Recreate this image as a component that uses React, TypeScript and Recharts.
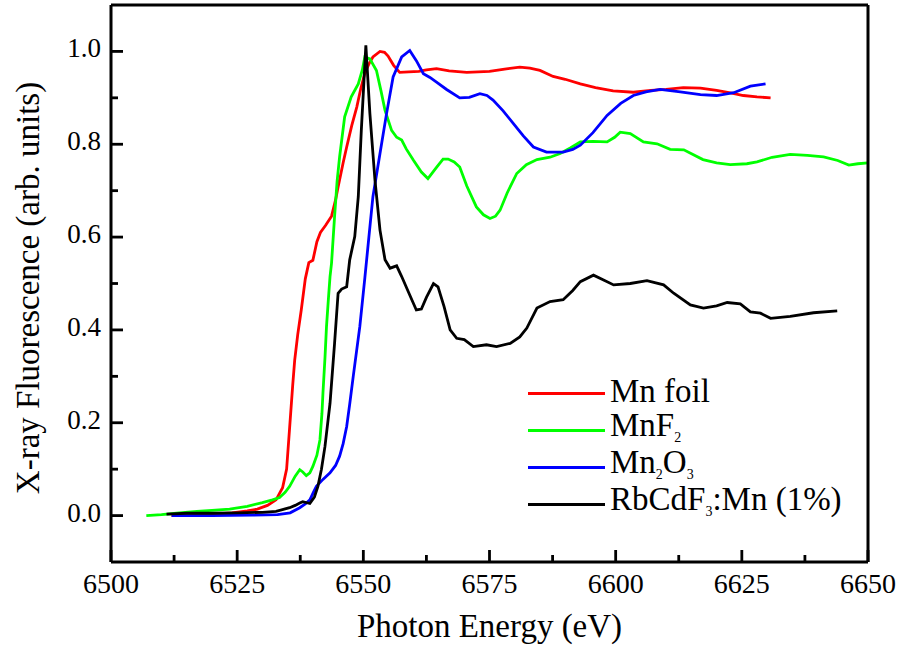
import React from 'react';
import { LineChart, Line, XAxis, YAxis, Legend } from 'recharts';

const FONT = "'Liberation Serif', 'Times New Roman', 'DejaVu Serif', 'Noto Serif', Tinos, serif";

// Photon energy (eV), normalized X-ray fluorescence
const mnFoil: [number, number][] = [
  [6512, 0.0], [6516, 0.0], [6520, 0.003], [6524, 0.006], [6527, 0.01], [6529, 0.014],
  [6531, 0.022], [6532.7, 0.034], [6534, 0.06], [6534.8, 0.1], [6535.4, 0.19], [6536, 0.28],
  [6536.4, 0.335], [6537, 0.39], [6537.7, 0.443], [6538.5, 0.51], [6539.2, 0.545], [6540, 0.55],
  [6540.8, 0.59], [6541.5, 0.61], [6542.5, 0.625], [6543.7, 0.645], [6544.5, 0.68], [6545, 0.708],
  [6546, 0.76], [6546.7, 0.794], [6547.7, 0.84], [6548.7, 0.88], [6549.5, 0.92], [6550.3, 0.953],
  [6551.2, 0.975], [6551.9, 0.988], [6553.3, 1.0], [6554.2, 0.998], [6554.9, 0.99], [6556, 0.97],
  [6557.2, 0.955], [6559, 0.956], [6561, 0.957], [6562.5, 0.96], [6564.5, 0.963], [6567, 0.958],
  [6570.5, 0.955], [6575, 0.957], [6578, 0.962], [6581, 0.966], [6583, 0.964], [6585, 0.959],
  [6587.6, 0.946], [6590, 0.94], [6593, 0.93], [6596, 0.922], [6599.5, 0.915], [6603.5, 0.912],
  [6607, 0.916], [6610, 0.918], [6613.4, 0.922], [6616.8, 0.921], [6620, 0.916], [6623, 0.91],
  [6625.3, 0.905], [6628, 0.902], [6630.7, 0.9],
];

const mnF2: [number, number][] = [
  [6507, 0.0], [6510, 0.002], [6513, 0.005], [6517, 0.009], [6520, 0.011], [6523.5, 0.014],
  [6527, 0.02], [6530, 0.028], [6532, 0.034], [6533.4, 0.039], [6534.5, 0.05], [6535.4, 0.063],
  [6536.5, 0.085], [6537.4, 0.099], [6538, 0.094], [6538.7, 0.086], [6539.4, 0.092], [6540, 0.106],
  [6540.8, 0.13], [6541.4, 0.163], [6541.8, 0.22], [6542, 0.264], [6542.4, 0.34], [6542.7, 0.407],
  [6543.1, 0.47], [6543.4, 0.515], [6543.7, 0.544], [6544.3, 0.644], [6544.8, 0.72], [6545.3, 0.773],
  [6546.3, 0.859], [6547.6, 0.902], [6549, 0.93], [6549.8, 0.96], [6550.3, 0.988], [6551.3, 0.984],
  [6552.6, 0.959], [6553.5, 0.915], [6554.3, 0.873], [6555.6, 0.83], [6556.6, 0.815], [6557.6, 0.809],
  [6558.5, 0.79], [6559.9, 0.766], [6561.5, 0.74], [6562.8, 0.726], [6564.5, 0.75], [6565.8, 0.768],
  [6566.8, 0.768], [6568, 0.762], [6569.1, 0.751], [6570.5, 0.71], [6572.4, 0.665], [6573.8, 0.648],
  [6575.1, 0.64], [6576.2, 0.645], [6577.1, 0.658], [6578.5, 0.695], [6580.4, 0.737], [6582.3, 0.756],
  [6584.4, 0.767], [6587, 0.772], [6589, 0.78], [6591, 0.792], [6593, 0.805], [6595.5, 0.806],
  [6598.3, 0.805], [6599.8, 0.815], [6600.9, 0.826], [6602.9, 0.823], [6605.5, 0.805], [6608.2, 0.801],
  [6610.8, 0.789], [6613.5, 0.788], [6617.3, 0.767], [6620, 0.76], [6622.7, 0.756], [6626, 0.758],
  [6628, 0.762], [6631, 0.772], [6634.6, 0.778], [6638, 0.776], [6641.2, 0.773], [6644, 0.765],
  [6646.2, 0.755], [6648, 0.758], [6650, 0.76],
];

const mn2O3: [number, number][] = [
  [6512, 0.0], [6520, 0.0], [6528, 0.001], [6533, 0.002], [6535.5, 0.006], [6537.4, 0.017],
  [6538.5, 0.025], [6539.4, 0.034], [6540.1, 0.05], [6540.7, 0.063], [6542, 0.078], [6543.4, 0.092],
  [6544.5, 0.108], [6545.3, 0.128], [6546, 0.155], [6546.7, 0.192], [6547.3, 0.24], [6548, 0.3],
  [6549.3, 0.407], [6550.3, 0.512], [6551.1, 0.6], [6551.9, 0.687], [6553.3, 0.78], [6554.6, 0.866],
  [6555.9, 0.945], [6557.6, 0.988], [6559.2, 1.002], [6560.5, 0.98], [6561.9, 0.952], [6563.2, 0.944],
  [6564.5, 0.934], [6566.5, 0.918], [6569.1, 0.9], [6571, 0.901], [6573.1, 0.909], [6574.5, 0.905],
  [6575.7, 0.895], [6577.7, 0.872], [6579.7, 0.845], [6581.7, 0.818], [6583.7, 0.794], [6586.3, 0.783],
  [6589.6, 0.783], [6591.5, 0.789], [6593, 0.798], [6595.5, 0.825], [6598.3, 0.862], [6601, 0.888],
  [6603.5, 0.905], [6606, 0.913], [6608.8, 0.918], [6612.8, 0.913], [6616.8, 0.907], [6620, 0.905],
  [6623.4, 0.911], [6626.7, 0.925], [6629.7, 0.93],
];

const rbCdF3Mn: [number, number][] = [
  [6511, 0.003], [6515, 0.005], [6520, 0.005], [6525, 0.006], [6530, 0.007], [6532.7, 0.009],
  [6535.4, 0.017], [6536.5, 0.022], [6537.4, 0.027], [6538, 0.03], [6539.4, 0.026], [6540.3, 0.04],
  [6541, 0.063], [6541.7, 0.1], [6542.4, 0.149], [6543.4, 0.242], [6544.3, 0.371], [6545, 0.479],
  [6545.7, 0.488], [6546.7, 0.493], [6547.3, 0.551], [6548.3, 0.601], [6549, 0.687], [6549.6, 0.83],
  [6550.5, 1.013], [6551.3, 0.866], [6552.3, 0.723], [6553.3, 0.615], [6554.3, 0.551], [6555.3, 0.533],
  [6556.6, 0.538], [6557.6, 0.515], [6559, 0.48], [6560.5, 0.443], [6561.5, 0.445], [6562.5, 0.47],
  [6563.9, 0.5], [6564.8, 0.493], [6566, 0.45], [6567.2, 0.4], [6568.5, 0.382], [6570, 0.379],
  [6571.8, 0.364], [6574.4, 0.368], [6576.4, 0.364], [6579.1, 0.371], [6581, 0.385], [6582.4, 0.404],
  [6584.4, 0.447], [6587, 0.461], [6589.6, 0.465], [6591.5, 0.485], [6593, 0.504], [6595.6, 0.518],
  [6597.5, 0.508], [6599.6, 0.497], [6602.9, 0.5], [6606.2, 0.506], [6609.5, 0.497], [6611.5, 0.479],
  [6614.8, 0.454], [6617.4, 0.447], [6620, 0.452], [6622.1, 0.459], [6624.7, 0.456], [6626.7, 0.439],
  [6628.7, 0.436], [6630.7, 0.425], [6634.6, 0.429], [6639.2, 0.437], [6643.9, 0.441],
];

const xMajorTicks = [6500, 6525, 6550, 6575, 6600, 6625, 6650];
const xMinorTicks = [6512.5, 6537.5, 6562.5, 6587.5, 6612.5, 6637.5];
const yMajorTicks = [0, 0.2, 0.4, 0.6, 0.8, 1.0];
const yMinorTicks = [0.1, 0.3, 0.5, 0.7, 0.9];

const xLabel = 'Photon Energy (eV)';
const yLabel = 'X-ray Fluorescence (arb. units)';

// legend label parts: [text, subscript?]
const series = [
  { key: 'mnFoil', data: mnFoil, color: '#ff0000', label: [['Mn foil', false]] },
  { key: 'mnF2', data: mnF2, color: '#00ff00', label: [['MnF', false], ['2', true]] },
  { key: 'mn2O3', data: mn2O3, color: '#0000ff', label: [['Mn', false], ['2', true], ['O', false], ['3', true]] },
  { key: 'rbCdF3Mn', data: rbCdF3Mn, color: '#000000', label: [['RbCdF', false], ['3', true], [':Mn (1%)', false]] },
];

const toRows = (pts: [number, number][]) => pts.map(([x, y]) => ({ x, y }));

const XTick = (props: any) => {
  const { x, y, payload } = props;
  const v = payload.value;
  const major = xMajorTicks.includes(v);
  return (
    <g>
      <line x1={x} y1={y} x2={x} y2={y - (major ? 12 : 7)} stroke="#000" strokeWidth={2.8} />
      {major && (
        <text x={x} y={y + 31} textAnchor="middle" fontSize={28} fontFamily={FONT} fill="#000">
          {v}
        </text>
      )}
    </g>
  );
};

const YTick = (props: any) => {
  const { x, y, payload } = props;
  const v = payload.value;
  const major = yMajorTicks.some((t) => Math.abs(t - v) < 1e-9);
  return (
    <g>
      <line x1={x} y1={y} x2={x + (major ? 12 : 7)} y2={y} stroke="#000" strokeWidth={2.8} />
      {major && (
        <text x={x - 10} y={y + 6} textAnchor="end" fontSize={27} fontFamily={FONT} fill="#000">
          {v.toFixed(1)}
        </text>
      )}
    </g>
  );
};

const renderLegend = () => (
  <div style={{ fontFamily: FONT, color: '#000' }}>
    {series.map((s) => (
      <div key={s.key} style={{ display: 'flex', alignItems: 'center', height: 37 }}>
        <div style={{ width: 77, height: 3, background: s.color, marginRight: 5 }} />
        <span style={{ fontSize: 33, lineHeight: '37px', position: 'relative', top: -2, whiteSpace: 'nowrap' }}>
          {s.label.map(([t, sub], i) =>
            sub ? (
              <span key={i} style={{ fontSize: 14, position: 'relative', top: 6 }}>{t as string}</span>
            ) : (
              <span key={i}>{t as string}</span>
            )
          )}
        </span>
      </div>
    ))}
  </div>
);

export default function App() {
  return (
    <div style={{ position: 'absolute', left: 0, top: 0, background: '#fff', fontFamily: FONT }}>
      <LineChart width={904} height={648} margin={{ top: 4, right: 35, bottom: 85, left: 110 }}>
        <XAxis
          dataKey="x"
          type="number"
          domain={[6500, 6650]}
          allowDataOverflow
          ticks={[...xMajorTicks, ...xMinorTicks].sort((a, b) => a - b)}
          interval={0}
          height={1}
          tickSize={0}
          tickMargin={0}
          tickLine={false}
          tick={<XTick />}
          axisLine={{ stroke: '#000', strokeWidth: 3 }}
          label={{
            content: () => (
              <text x={489.5} y={637} textAnchor="middle" fontSize={33} fontFamily={FONT} fill="#000">
                {xLabel}
              </text>
            ),
          }}
        />
        <XAxis
          xAxisId="top"
          orientation="top"
          type="number"
          domain={[6500, 6650]}
          height={1}
          tick={false}
          tickLine={false}
          axisLine={{ stroke: '#000', strokeWidth: 3 }}
        />
        <YAxis
          type="number"
          domain={[-0.1, 1.1]}
          allowDataOverflow
          ticks={[...yMajorTicks, ...yMinorTicks].sort((a, b) => a - b)}
          interval={0}
          width={1}
          tickSize={0}
          tickMargin={0}
          tickLine={false}
          tick={<YTick />}
          axisLine={{ stroke: '#000', strokeWidth: 3 }}
          label={{
            content: () => (
              <text
                x={39}
                y={288}
                transform="rotate(-90 39 288)"
                textAnchor="middle"
                fontSize={33}
                fontFamily={FONT}
                fill="#000"
              >
                {yLabel}
              </text>
            ),
          }}
        />
        <YAxis
          yAxisId="right"
          orientation="right"
          type="number"
          domain={[-0.1, 1.1]}
          width={1}
          tick={false}
          tickLine={false}
          axisLine={{ stroke: '#000', strokeWidth: 3 }}
        />
        {series.map((s) => (
          <Line
            key={s.key}
            data={toRows(s.data)}
            dataKey="y"
            type="linear"
            stroke={s.color}
            strokeWidth={2.8}
            dot={false}
            activeDot={false}
            isAnimationActive={false}
          />
        ))}
        <Legend
          layout="horizontal"
          verticalAlign="middle"
          align="center"
          content={renderLegend}
          wrapperStyle={{ position: 'absolute', left: 528, top: 374.5, width: 330, height: 148 }}
        />
      </LineChart>
    </div>
  );
}
